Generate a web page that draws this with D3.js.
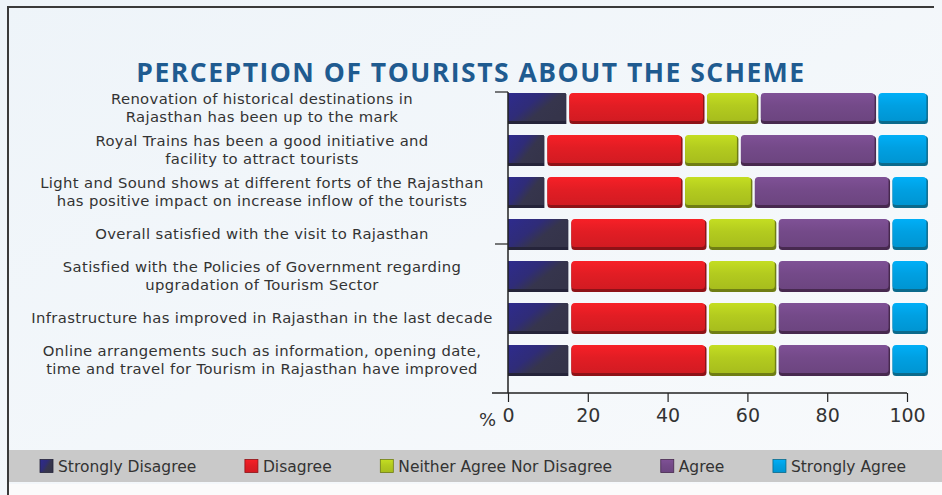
<!DOCTYPE html>
<html>
<head>
<meta charset="utf-8">
<script src="https://cdn.jsdelivr.net/npm/d3@7"></script>
<style>
  body { margin: 0; background: #fff; }
  svg { display: block; }
</style>
</head>
<body>
<div id="chart"></div>
<script>
var width = 942, height = 495;

// statements, top to bottom
var statements = [
  ["Renovation of historical destinations in", "Rajasthan has been up to the mark"],
  ["Royal Trains has been a good initiative and", "facility to attract tourists"],
  ["Light and Sound shows at different forts of the Rajasthan", "has positive impact on increase inflow of the tourists"],
  ["Overall satisfied with the visit to Rajasthan"],
  ["Satisfied with the Policies of Government regarding", "upgradation of Tourism Sector"],
  ["Infrastructure has improved  in Rajasthan in the last decade"],
  ["Online arrangements such as information, opening date,", "time and travel for Tourism in Rajasthan have improved"]
];

var categories = ["Strongly Disagree", "Disagree", "Neither Agree Nor Disagree", "Agree", "Strongly Agree"];

// percent values (bars run a bit past 100 in the original)
var stronglyDisagree = [15, 9.5, 9.5, 15.5, 15.5, 15.5, 15.5];
var disagree         = [34.5, 34.5, 34.5, 34.5, 34.5, 34.5, 34.5];
var neither          = [13.5, 14, 17.5, 17.5, 17.5, 17.5, 17.5];
var agree            = [29.5, 34.5, 34.5, 28.5, 28.5, 28.5, 28.5];
var stronglyAgree    = [13, 13, 9.5, 9.5, 9.5, 9.5, 9.5];

var xTicks = [0, 20, 40, 60, 80, 100];

var colors = ["#2c2a7e", "#e21d24", "#b3cb1f", "#744a89", "#00a0e2"];
var edges  = ["#25243a", "#8e1217", "#6f7d14", "#47294f", "#0b6a8c"];

var rows = statements.map(function(s, i) {
  return {
    id: i,
    "Strongly Disagree": stronglyDisagree[i],
    "Disagree": disagree[i],
    "Neither Agree Nor Disagree": neither[i],
    "Agree": agree[i],
    "Strongly Agree": stronglyAgree[i]
  };
});

var stacked = d3.stack().keys(categories)(rows);

var svg = d3.select("#chart").append("svg")
    .attr("width", width)
    .attr("height", height);

var defs = svg.append("defs");

var bg = defs.append("linearGradient").attr("id", "bg")
    .attr("x1", 0).attr("y1", 0).attr("x2", 1).attr("y2", 1);
bg.append("stop").attr("offset", "0%").attr("stop-color", "#eef4f9");
bg.append("stop").attr("offset", "100%").attr("stop-color", "#f8fafc");

// the strongly disagree block fades from blue into a dark slate
var navy = defs.append("linearGradient").attr("id", "grad0")
    .attr("x1", 0).attr("y1", 0).attr("x2", 1).attr("y2", 0.6);
navy.append("stop").attr("offset", "0%").attr("stop-color", "#2e2b8e");
navy.append("stop").attr("offset", "45%").attr("stop-color", "#2f2c78");
navy.append("stop").attr("offset", "70%").attr("stop-color", "#36354d");
navy.append("stop").attr("offset", "100%").attr("stop-color", "#35344a");

colors.forEach(function(c, i) {
  if (i == 0) return;
  var g = defs.append("linearGradient").attr("id", "grad" + i)
      .attr("x1", 0).attr("y1", 0).attr("x2", 0).attr("y2", 1);
  g.append("stop").attr("offset", "0%").attr("stop-color", d3.color(c).brighter(0.25));
  g.append("stop").attr("offset", "45%").attr("stop-color", c);
  g.append("stop").attr("offset", "100%").attr("stop-color", d3.color(c).darker(0.2));
});

// background and frame
svg.append("rect").attr("width", width).attr("height", height).attr("fill", "url(#bg)");
svg.append("rect").attr("x", 8).attr("y", 484).attr("width", width).attr("height", 11).attr("fill", "#fbfbfb");
svg.append("line").attr("x1", 8).attr("x2", 934).attr("y1", 7).attr("y2", 7)
    .attr("stroke", "#3a3a3a").attr("stroke-width", 2);
svg.append("line").attr("x1", 8).attr("x2", 8).attr("y1", 6).attr("y2", height)
    .attr("stroke", "#3a3a3a").attr("stroke-width", 2);

svg.append("text")
    .attr("x", 471).attr("y", 82)
    .attr("text-anchor", "middle")
    .attr("font-family", "'Open Sans', sans-serif")
    .attr("font-weight", 700)
    .attr("font-size", 26.5)
    .attr("letter-spacing", 1.5)
    .attr("fill", "#1f5b90")
    .text("PERCEPTION OF TOURISTS ABOUT THE SCHEME");

var x = d3.scaleLinear().domain([0, 100]).range([508, 907]);
var y = d3.scaleBand().domain(d3.range(statements.length))
    .range([87, 381]).paddingInner(12 / 42).paddingOuter(6 / 42);

// bars
var layer = svg.append("g").selectAll("g")
    .data(stacked)
    .join("g");

layer.selectAll(".shadow")
    .data(function(d) { return d.map(function(v) { return {v: v, k: d.index}; }); })
    .join("rect")
    .attr("class", "shadow")
    .attr("x", function(d) { return x(d.v[0]) + (d.k == 0 ? 0 : 1.5); })
    .attr("y", function(d) { return y(d.v.data.id) + 1; })
    .attr("width", function(d) { return x(d.v[1]) - x(d.v[0]) - (d.k == 0 ? 1.5 : 2.5); })
    .attr("height", y.bandwidth())
    .attr("rx", d => d.k == 0 ? 0 : 3.5)
    .attr("fill", function(d) { return edges[d.k]; });

layer.selectAll(".seg")
    .data(function(d) { return d.map(function(v) { return {v: v, k: d.index}; }); })
    .join("rect")
    .attr("class", "seg")
    .attr("x", function(d) { return x(d.v[0]) + (d.k == 0 ? 0 : 1.5); })
    .attr("y", function(d) { return y(d.v.data.id); })
    .attr("width", function(d) { return x(d.v[1]) - x(d.v[0]) - (d.k == 0 ? 2 : 4); })
    .attr("height", y.bandwidth() - 2)
    .attr("rx", d => d.k == 0 ? 0 : 3.5)
    .attr("fill", function(d) { return "url(#grad" + d.k + ")"; });

// statement labels
var labels = svg.append("g")
    .attr("font-family", "'DejaVu Sans', sans-serif")
    .attr("font-size", 14.8)
    .attr("letter-spacing", 0.35)
    .attr("fill", "#333")
    .attr("text-anchor", "middle");

statements.forEach(function(lines, i) {
  var cy = y(i) + y.bandwidth() / 2;
  var t = labels.append("text").attr("x", 262).attr("y", cy - (lines.length - 1) * 9 + 5);
  lines.forEach(function(l, j) {
    t.append("tspan").attr("x", 262).attr("dy", j == 0 ? 0 : 18).text(l);
  });
});

// axes
var axisY = 393;
svg.append("line").attr("x1", 508).attr("x2", 508).attr("y1", y(0) - 1).attr("y2", axisY)
    .attr("stroke", "#222").attr("stroke-width", 1.5);
svg.append("line").attr("x1", 495).attr("x2", 508).attr("y1", y(0) - 1).attr("y2", y(0) - 1)
    .attr("stroke", "#222").attr("stroke-width", 1.2);
svg.append("line").attr("x1", 495).attr("x2", 508)
    .attr("y1", y(3) + y.bandwidth() - 5).attr("y2", y(3) + y.bandwidth() - 5)
    .attr("stroke", "#222").attr("stroke-width", 1.2);
svg.append("line").attr("x1", 492).attr("x2", 907).attr("y1", axisY).attr("y2", axisY)
    .attr("stroke", "#222").attr("stroke-width", 1.5);

var xAxis = svg.append("g")
    .attr("transform", "translate(0," + axisY + ")")
    .call(d3.axisBottom(x).tickValues(xTicks).tickSize(9).tickPadding(7).tickSizeOuter(0));
xAxis.select(".domain").remove();
xAxis.selectAll(".tick line").attr("stroke", "#222").attr("stroke-width", 1.2);
xAxis.selectAll(".tick text")
    .attr("font-family", "'DejaVu Sans', sans-serif")
    .attr("font-size", 19)
    .attr("fill", "#333");

svg.append("text")
    .attr("x", 496).attr("y", 426)
    .attr("text-anchor", "end")
    .attr("font-family", "'DejaVu Sans', sans-serif")
    .attr("font-size", 18)
    .attr("fill", "#333")
    .text("%");

// legend band
svg.append("rect").attr("x", 9).attr("y", 450).attr("width", width).attr("height", 32).attr("fill", "#c9c9c9");

var legend = svg.append("g")
    .attr("font-family", "'DejaVu Sans', sans-serif")
    .attr("font-size", 15.5)
    .attr("fill", "#333");

var items = legend.selectAll("g").data(categories).join("g");
items.append("rect")
    .attr("width", 13).attr("height", 13).attr("y", 459.5)
    .attr("fill", function(d, i) { return "url(#grad" + i + ")"; })
    .attr("stroke", function(d, i) { return edges[i]; }).attr("stroke-width", 0.8);
items.append("text")
    .attr("x", 18).attr("y", 471.5)
    .text(function(d) { return d; });

// spread legend items over the band like the original
var widths = [];
items.each(function() { widths.push(this.querySelector("text").getComputedTextLength() + 18); });
var left = 40, right = 906;
var gap = (right - left - d3.sum(widths)) / (widths.length - 1);
var cx = left;
items.each(function(d, i) {
  d3.select(this).attr("transform", "translate(" + cx + ",0)");
  cx += widths[i] + gap;
});
</script>
</body>
</html>
